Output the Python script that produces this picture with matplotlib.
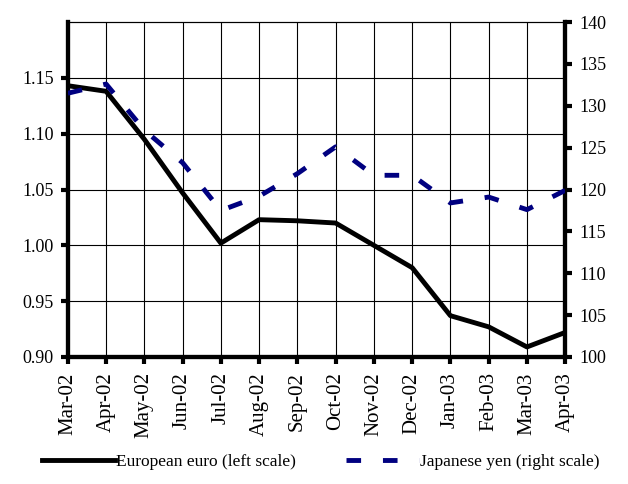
import matplotlib.pyplot as plt

plt.rcParams['font.family'] = ['Liberation Serif', 'DejaVu Serif']

months = ["Mar-02", "Apr-02", "May-02", "Jun-02", "Jul-02", "Aug-02", "Sep-02",
          "Oct-02", "Nov-02", "Dec-02", "Jan-03", "Feb-03", "Mar-03", "Apr-03"]
euro = [1.143, 1.138, 1.095, 1.047, 1.002, 1.023, 1.022,
        1.020, 1.000, 0.980, 0.937, 0.927, 0.909, 0.922]
yen = [131.5, 132.6, 127.1, 123.2, 117.5, 119.2, 121.9,
       125.1, 121.7, 121.7, 118.4, 119.1, 117.6, 119.9]
left_ticks = [0.90, 0.95, 1.00, 1.05, 1.10, 1.15]
right_ticks = [100, 105, 110, 115, 120, 125, 130, 135, 140]

fig = plt.figure(figsize=(6.28, 4.84), dpi=100)
ax = fig.add_axes([0.108, 0.2624, 0.792, 0.692])
x = range(len(months))

l1, = ax.plot(x, euro, color="black", lw=3.5, label="European euro (left scale)", zorder=3)
ax.set_ylim(0.90, 1.20)
ax.set_yticks(left_ticks)
ax.set_yticklabels([f"{v:.2f}" for v in left_ticks])
ax.set_xlim(0, len(months) - 1)
ax.set_xticks(list(x))
ax.set_xticklabels(months, rotation=90)
ax.grid(True, color="black", lw=0.8)

ax2 = ax.twinx()
l2, = ax2.plot(x, yen, color="#000080", lw=3.5, dashes=(3, 4.5),
               label="Japanese yen (right scale)", zorder=3)
ax2.set_ylim(100, 140)
ax2.set_yticks(right_ticks)

for a in (ax, ax2):
    for side in ("left", "right", "bottom"):
        a.spines[side].set_linewidth(3)
    a.spines["top"].set_linewidth(0.8)
    a.tick_params(axis="y", width=3, length=5, labelsize=13, direction="out", pad=5)
    a.tick_params(axis="x", width=3, length=5, labelsize=15, direction="out", pad=6)

fig.legend(handles=[l1, l2], loc="center left", bbox_to_anchor=(0.067, 1 - 462 / 484),
           ncol=2, frameon=False, fontsize=12.5, handlelength=4.2,
           handletextpad=0.05, columnspacing=2.9, borderpad=0, borderaxespad=0)

fig.savefig("out.png", dpi=100)
